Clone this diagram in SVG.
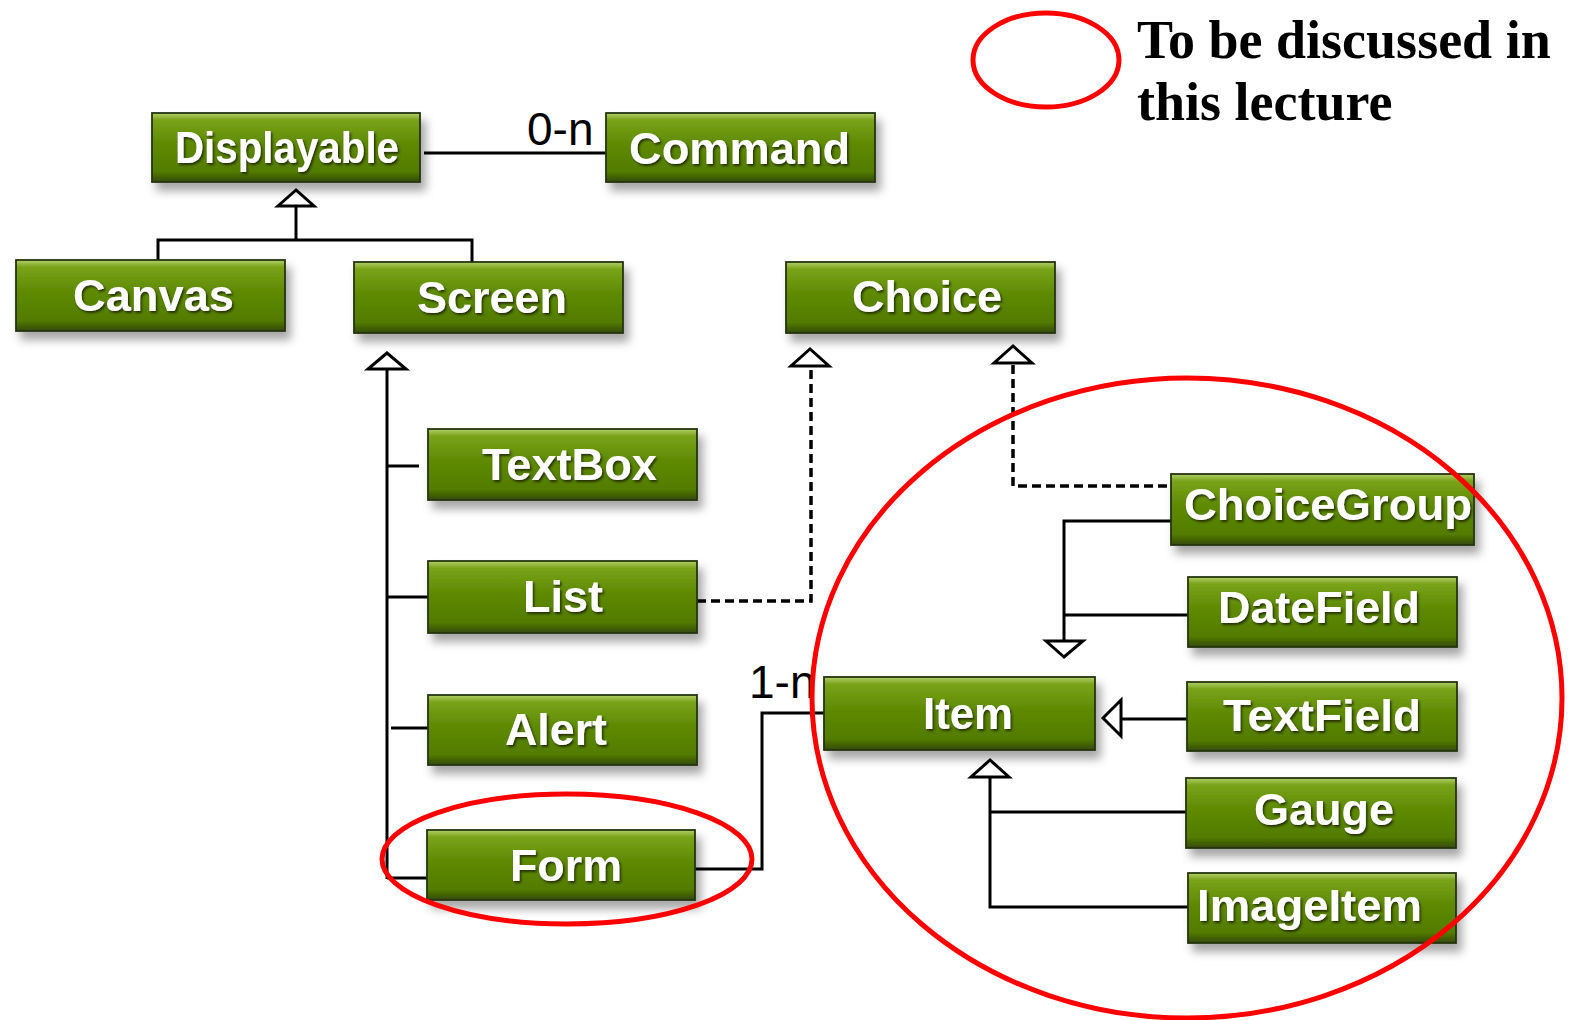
<svg xmlns="http://www.w3.org/2000/svg" width="1573" height="1020" viewBox="0 0 1573 1020">
<defs>
<linearGradient id="g" x1="0" y1="0" x2="0" y2="1">
<stop offset="0" stop-color="#b2d06a"/>
<stop offset="0.1" stop-color="#7aa31a"/>
<stop offset="0.45" stop-color="#5e8a02"/>
<stop offset="0.85" stop-color="#527c00"/>
<stop offset="1" stop-color="#33490a"/>
</linearGradient>
<filter id="sh" x="-10%" y="-20%" width="125%" height="160%">
<feDropShadow dx="5" dy="8" stdDeviation="5" flood-color="#000" flood-opacity="0.35"/>
</filter>
<filter id="ts" x="-5%" y="-20%" width="115%" height="150%">
<feDropShadow dx="1.5" dy="2" stdDeviation="0.8" flood-color="#1c2800" flood-opacity="0.9"/>
</filter>
</defs>
<style>
.box{fill:url(#g);stroke:#26330a;stroke-width:1.8;filter:url(#sh)}
.lbl{font-family:"Liberation Sans",Arial,sans-serif;font-weight:bold;font-size:45px;fill:#fff;filter:url(#ts)}
.ln{fill:none;stroke:#000;stroke-width:3}
.dash{fill:none;stroke:#000;stroke-width:3.5;stroke-dasharray:9 5}
.tri{fill:#fff;stroke:#000;stroke-width:3;stroke-linejoin:miter}
.mult{font-family:"Liberation Sans",Arial,sans-serif;font-size:46px;fill:#000}
.red{fill:none;stroke:#f00;stroke-width:5}
.note{font-family:"Liberation Serif","Times New Roman",serif;font-weight:bold;font-size:54px;fill:#000}
</style>
<rect width="1573" height="1020" fill="#fff"/>

<g id="connectors">
<line class="ln" x1="424" y1="153" x2="606" y2="153"/>
<polyline class="ln" points="158,262 158,240 472,240 472,264"/>
<line class="ln" x1="296" y1="240" x2="296" y2="206"/>
<polygon class="tri" points="296,190 278,206 314,206"/>
<line class="ln" x1="387" y1="369" x2="387" y2="879"/>
<polygon class="tri" points="387,353 368,369 406,369"/>
<line class="ln" x1="387" y1="466" x2="419" y2="466"/>
<line class="ln" x1="387" y1="597" x2="428" y2="597"/>
<line class="ln" x1="391" y1="728" x2="428" y2="728"/>
<line class="ln" x1="387" y1="878" x2="427" y2="878"/>
<polyline class="dash" points="697,601 811,601 811,368"/>
<polygon class="tri" points="810,349 791,366 829,366"/>
<polyline class="dash" points="1013,365 1013,486 1171,486"/>
<polygon class="tri" points="1013,346 994,363 1032,363"/>
<polyline class="ln" points="1171,521 1064,521 1064,641"/>
<line class="ln" x1="1064" y1="615" x2="1188" y2="615"/>
<polygon class="tri" points="1064,657 1046,641 1083,641"/>
<line class="ln" x1="1122" y1="719" x2="1187" y2="719"/>
<polygon class="tri" points="1103,718 1121,700 1121,736"/>
<polyline class="ln" points="990,777 990,907 1188,907"/>
<line class="ln" x1="990" y1="812" x2="1186" y2="812"/>
<polygon class="tri" points="990,760 971,777 1009,777"/>
<polyline class="ln" points="695,869 762,869 762,713 824,713"/>
<text class="mult" x="527" y="145">0-n</text>
<text class="mult" x="749" y="698">1-n</text>
</g>

<g id="Displayable"><rect class="box" x="152" y="113" width="268" height="69"/><text class="lbl" x="175" y="163" font-size="43" textLength="224" lengthAdjust="spacingAndGlyphs">Displayable</text></g>
<g id="Command"><rect class="box" x="606" y="113" width="269" height="69"/><text class="lbl" x="629" y="164" textLength="221" lengthAdjust="spacingAndGlyphs">Command</text></g>
<g id="Canvas"><rect class="box" x="16" y="260" width="269" height="71"/><text class="lbl" x="73" y="311" textLength="161" lengthAdjust="spacingAndGlyphs">Canvas</text></g>
<g id="Screen"><rect class="box" x="354" y="262" width="269" height="71"/><text class="lbl" x="417" y="313" textLength="150" lengthAdjust="spacingAndGlyphs">Screen</text></g>
<g id="Choice"><rect class="box" x="786" y="262" width="269" height="71"/><text class="lbl" x="852" y="312" textLength="150" lengthAdjust="spacingAndGlyphs">Choice</text></g>
<g id="TextBox"><rect class="box" x="428" y="429" width="269" height="71"/><text class="lbl" x="482" y="480" textLength="175" lengthAdjust="spacingAndGlyphs">TextBox</text></g>
<g id="List"><rect class="box" x="428" y="561" width="269" height="72"/><text class="lbl" x="523" y="612" textLength="80" lengthAdjust="spacingAndGlyphs">List</text></g>
<g id="Alert"><rect class="box" x="428" y="695" width="269" height="70"/><text class="lbl" x="505" y="745" textLength="102" lengthAdjust="spacingAndGlyphs">Alert</text></g>
<g id="Form"><rect class="box" x="427" y="830" width="268" height="70"/><text class="lbl" x="510" y="881" textLength="112" lengthAdjust="spacingAndGlyphs">Form</text></g>
<g id="Item"><rect class="box" x="824" y="677" width="271" height="73"/><text class="lbl" x="923" y="729" textLength="90" lengthAdjust="spacingAndGlyphs">Item</text></g>
<g id="ChoiceGroup"><rect class="box" x="1171" y="474" width="303" height="71"/><text class="lbl" x="1184" y="520" textLength="288" lengthAdjust="spacingAndGlyphs">ChoiceGroup</text></g>
<g id="DateField"><rect class="box" x="1188" y="577" width="269" height="70"/><text class="lbl" x="1218" y="623" textLength="202" lengthAdjust="spacingAndGlyphs">DateField</text></g>
<g id="TextField"><rect class="box" x="1187" y="682" width="270" height="69"/><text class="lbl" x="1223" y="731" textLength="198" lengthAdjust="spacingAndGlyphs">TextField</text></g>
<g id="Gauge"><rect class="box" x="1186" y="778" width="270" height="70"/><text class="lbl" x="1254" y="825" textLength="140" lengthAdjust="spacingAndGlyphs">Gauge</text></g>
<g id="ImageItem"><rect class="box" x="1188" y="873" width="268" height="70"/><text class="lbl" x="1197" y="921" textLength="225" lengthAdjust="spacingAndGlyphs">ImageItem</text></g>

<g id="highlights">
<ellipse class="red" cx="1046" cy="60" rx="73" ry="47"/>
<ellipse class="red" cx="1187" cy="698" rx="375" ry="320"/>
<ellipse class="red" cx="567" cy="859" rx="185" ry="65"/>
<text class="note" x="1137" y="58">To be discussed in</text>
<text class="note" x="1137" y="120">this lecture</text>
</g>
</svg>
